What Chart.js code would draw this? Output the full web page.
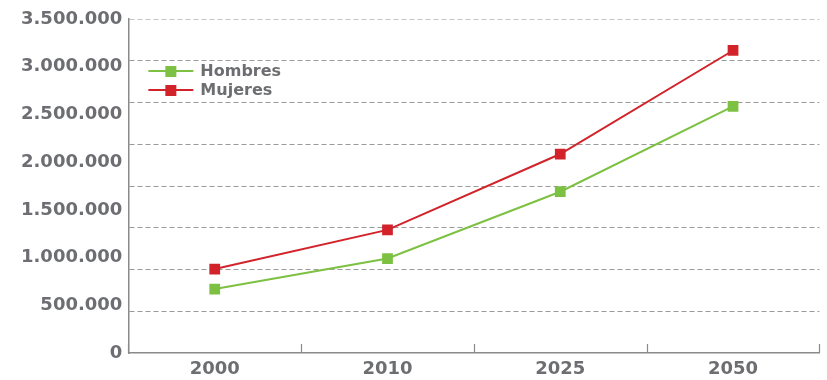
<!DOCTYPE html>
<html>
<head>
<meta charset="utf-8">
<script src="https://cdn.jsdelivr.net/npm/chart.js@4"></script>
<style>
  html, body { margin: 0; padding: 0; background: #fff; }
  #wrap { width: 827px; height: 380px; }
</style>
</head>
<body>
<div id="wrap"><canvas id="poblacion"></canvas></div>
<script>
const anios = ['2000', '2010', '2025', '2050'];
const hombres = [670000, 990000, 1690000, 2585000];
const mujeres = [880000, 1290000, 2085000, 3170000];
const ejeMax = 3500000;
const pasoEtiquetas = 500000;
const pasoRejilla = 437500;

const gris = '#6d6e71';
const verde = '#7dc142';
const rojo = '#d2232a';

// tick marks between years, pointing up into the plot
const marcasX = {
  id: 'marcasX',
  afterDraw(chart) {
    const x = chart.scales.x;
    const ctx = chart.ctx;
    const y0 = chart.chartArea.bottom;
    ctx.save();
    ctx.strokeStyle = '#8a8a8a';
    ctx.lineWidth = 1.2;
    for (let i = 0; i <= anios.length; i++) {
      const px = Math.round(x.getPixelForValue(i - 0.5)) + 0.5;
      ctx.beginPath();
      ctx.moveTo(px, y0);
      ctx.lineTo(px, y0 - 9);
      ctx.stroke();
    }
    ctx.restore();
  }
};

// legend drawn inside the plot, line + square marker
const leyenda = {
  id: 'leyenda',
  afterDatasetsDraw(chart) {
    const ctx = chart.ctx;
    const left = chart.chartArea.left + 20;
    let y = chart.chartArea.top + 52;
    ctx.save();
    ctx.font = 'bold 16px "DejaVu Sans"';
    ctx.textBaseline = 'middle';
    chart.data.datasets.forEach(ds => {
      ctx.strokeStyle = ds.borderColor;
      ctx.lineWidth = 2;
      ctx.beginPath();
      ctx.moveTo(left, y);
      ctx.lineTo(left + 45, y);
      ctx.stroke();
      ctx.fillStyle = ds.borderColor;
      ctx.fillRect(left + 17, y - 5, 11, 11);
      ctx.fillStyle = gris;
      ctx.fillText(ds.label, left + 52, y + 1);
      y += 19;
    });
    ctx.restore();
  }
};

const fmt = v => v.toLocaleString('de-DE');

new Chart(document.getElementById('poblacion'), {
  type: 'line',
  data: {
    labels: anios,
    datasets: [
      {
        label: 'Hombres', data: hombres, yAxisID: 'y',
        borderColor: verde, backgroundColor: verde, borderWidth: 2,
        pointStyle: 'rect', pointRadius: 7.6, pointBorderWidth: 0, tension: 0
      },
      {
        label: 'Mujeres', data: mujeres, yAxisID: 'y',
        borderColor: rojo, backgroundColor: rojo, borderWidth: 2,
        pointStyle: 'rect', pointRadius: 7.6, pointBorderWidth: 0, tension: 0
      }
    ]
  },
  options: {
    responsive: true,
    maintainAspectRatio: false,
    animation: false,
    layout: { padding: { top: 19, right: 7, bottom: 0, left: 15 } },
    plugins: { legend: { display: false }, tooltip: { enabled: false } },
    scales: {
      x: {
        offset: true,
        afterFit: s => { s.height = 27; },
        grid: { display: false, drawTicks: false },
        border: { display: true, color: '#8a8a8a', width: 1.5 },
        ticks: { color: gris, font: { family: 'DejaVu Sans', size: 18, weight: 'bold', lineHeight: 1 }, padding: 7 }
      },
      y: {
        position: 'left',
        min: 0, max: ejeMax,
        grid: {
          drawTicks: false,
          color: c => c.tick.value === 0 ? 'transparent' : (c.tick.value === ejeMax ? '#c4c4c4' : '#9a9a9a'),
          lineWidth: 1
        },
        border: { display: true, color: '#8a8a8a', width: 1.5, dash: [5, 3] },
        ticks: { display: false, stepSize: pasoRejilla }
      },
      yl: {
        position: 'left',
        min: 0, max: ejeMax,
        grid: { display: false, drawTicks: false },
        border: { display: false },
        ticks: {
          stepSize: pasoEtiquetas,
          color: gris,
          padding: 6,
          font: { family: 'DejaVu Sans', size: 18, weight: 'bold' },
          callback: v => fmt(v)
        }
      }
    }
  },
  plugins: [marcasX, leyenda]
});
</script>
</body>
</html>
